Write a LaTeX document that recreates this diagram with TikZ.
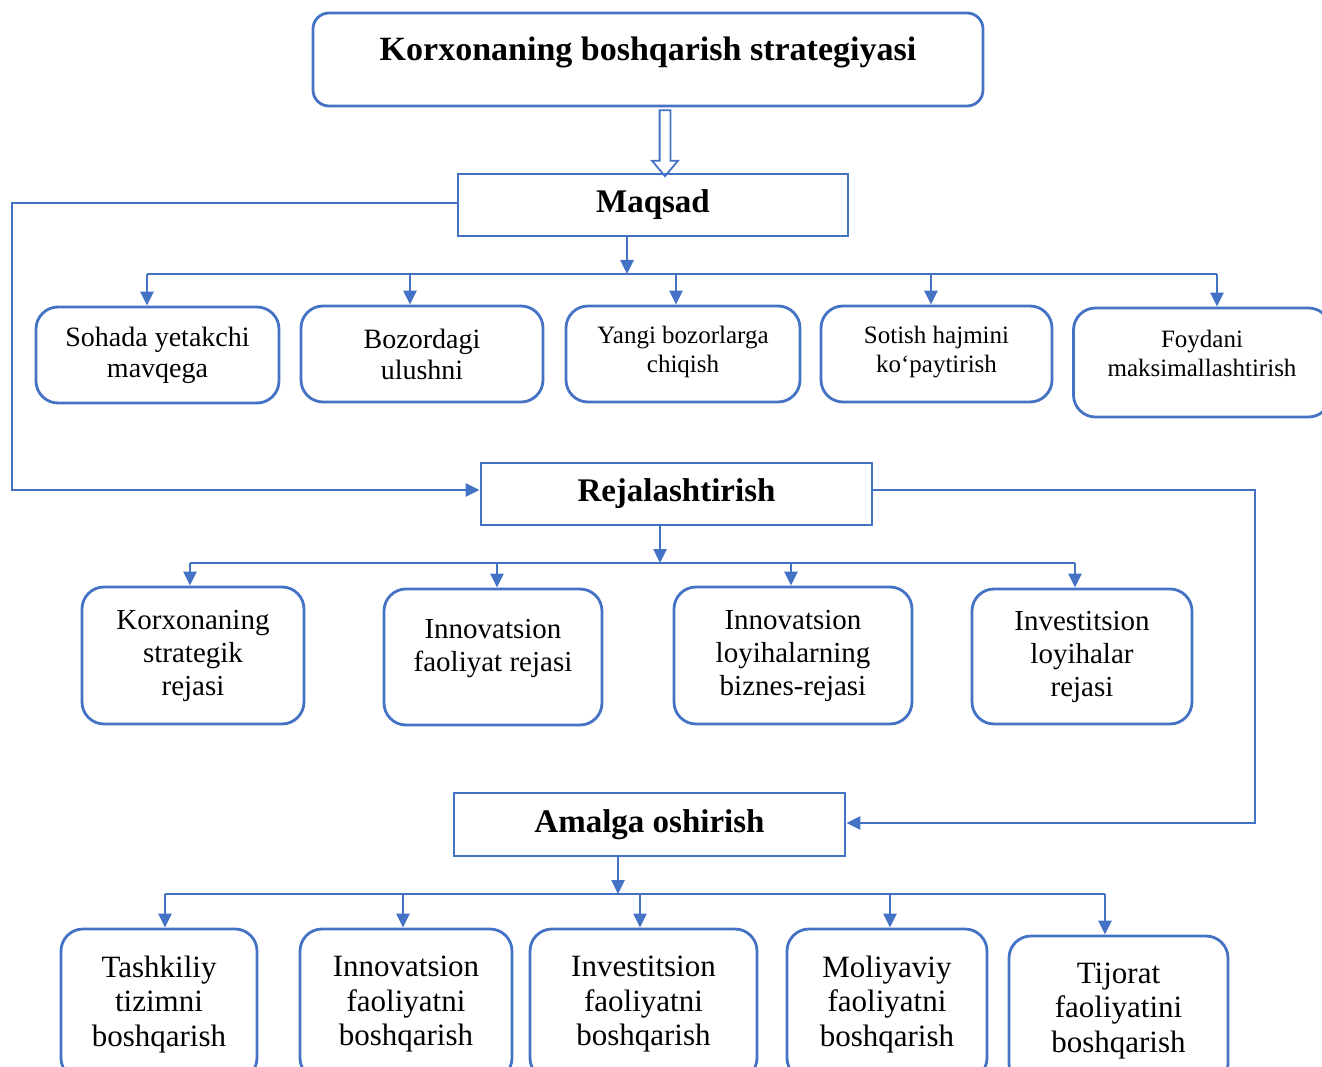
\documentclass[tikz,border=0pt]{standalone}
\usepackage{fontspec}
\setmainfont{Liberation Serif}
\usetikzlibrary{arrows.meta, shapes.arrows}
\definecolor{boxblue}{RGB}{68,114,196}

\begin{document}
\begin{tikzpicture}[x=1pt, y=-1pt, >={Triangle[width=13pt,length=14pt]}, align=center,
    topbox/.style={draw=boxblue, line width=2.8pt, rounded corners=16pt, font=\bfseries\fontsize{34}{40}\selectfont},
    headbox/.style={draw=boxblue, line width=2.8pt, minimum width=391pt, minimum height=62pt, font=\bfseries\fontsize{33}{38}\selectfont},
    itembox/.style={draw=boxblue, line width=2.8pt, rounded corners=22pt},
    conn/.style={draw=boxblue, line width=2.5pt, ->},
    bus/.style={draw=boxblue, line width=2.5pt}]
    \useasboundingbox (0,0) rectangle (1322,1067);

    % MAIN BLOCKS
    \node (strat) at (648, 59.5) [topbox, minimum width=670pt, minimum height=93pt, text height=24pt, text depth=21pt] {Korxonaning boshqarish strategiyasi};
    \node (dblarrow) at (665, 140) [single arrow, draw=boxblue, line width=1.8pt, rotate=-90, minimum height=66pt, inner sep=4.5pt, single arrow head extend=7.5pt, single arrow tip angle=80] {};
    \node (maqsad) at (653, 205) [headbox, minimum width=390pt] {Maqsad};
    \node (rej) at (676.5, 494) [headbox] {Rejalashtirish};
    \node (amalga) at (649.5, 824.5) [headbox, minimum height=63pt] {Amalga oshirish};

    % GOALS
    \node (goal1) at (157.5, 355) [itembox, minimum width=243pt, minimum height=96pt, font=\fontsize{28}{31}\selectfont] {Sohada yetakchi\\mavqega};
    \node (goal2) at (422, 354) [itembox, minimum width=242pt, minimum height=96pt, font=\fontsize{28}{31}\selectfont] {Bozordagi\\ulushni};
    \node (goal3) at (683, 354) [itembox, minimum width=234pt, minimum height=96pt, text depth=9pt, font=\fontsize{25}{29}\selectfont] {Yangi bozorlarga\\chiqish};
    \node (goal4) at (936.5, 354) [itembox, minimum width=231pt, minimum height=96pt, text depth=9pt, font=\fontsize{25}{29}\selectfont] {Sotish hajmini\\ko‘paytirish};
    \node (goal5) at (1202, 362.5) [itembox, minimum width=257pt, minimum height=109pt, text depth=19pt, font=\fontsize{25}{29}\selectfont] {Foydani\\maksimallashtirish};

    % PLANS
    \node (plan1) at (193, 655.5) [itembox, minimum width=222pt, minimum height=137pt, font=\fontsize{29}{33}\selectfont] {Korxonaning\\strategik\\rejasi};
    \node (plan2) at (493, 657) [itembox, minimum width=218pt, minimum height=136pt, text depth=24pt, font=\fontsize{29}{33}\selectfont] {Innovatsion\\faoliyat rejasi};
    \node (plan3) at (793, 655.5) [itembox, minimum width=238pt, minimum height=137pt, font=\fontsize{29}{33}\selectfont] {Innovatsion\\loyihalarning\\biznes-rejasi};
    \node (plan4) at (1082, 656.5) [itembox, minimum width=220pt, minimum height=135pt, font=\fontsize{29}{33}\selectfont] {Investitsion\\loyihalar\\rejasi};

    % ACTIONS
    \node (act1) at (159, 1004.5) [itembox, minimum width=196pt, minimum height=151pt, font=\fontsize{31}{34.5}\selectfont] {Tashkiliy\\tizimni\\boshqarish};
    \node (act2) at (406, 1004.5) [itembox, minimum width=212pt, minimum height=151pt, font=\fontsize{31}{34.5}\selectfont] {Innovatsion\\faoliyatni\\boshqarish};
    \node (act3) at (643.5, 1004.5) [itembox, minimum width=227pt, minimum height=151pt, font=\fontsize{31}{34.5}\selectfont] {Investitsion\\faoliyatni\\boshqarish};
    \node (act4) at (887, 1004.5) [itembox, minimum width=200pt, minimum height=151pt, font=\fontsize{31}{34.5}\selectfont] {Moliyaviy\\faoliyatni\\boshqarish};
    \node (act5) at (1118.5, 1011) [itembox, minimum width=219pt, minimum height=150pt, font=\fontsize{31}{34.5}\selectfont] {Tijorat\\faoliyatini\\boshqarish};

    % BUS POINTS
    \coordinate (m0) at (627, 274);
    \coordinate (m1) at (147, 274);
    \coordinate (m2) at (410, 274);
    \coordinate (m3) at (676, 274);
    \coordinate (m4) at (931, 274);
    \coordinate (m5) at (1217, 274);

    \coordinate (r0) at (660, 563);
    \coordinate (r1) at (190, 563);
    \coordinate (r2) at (497, 563);
    \coordinate (r3) at (791, 563);
    \coordinate (r4) at (1075, 563);

    \coordinate (a0) at (618, 894);
    \coordinate (a1) at (165, 894);
    \coordinate (a2) at (403, 894);
    \coordinate (a3) at (640, 894);
    \coordinate (a4) at (890, 894);
    \coordinate (a5) at (1105, 894);

    \coordinate (lft) at (12, 300);
    \coordinate (rgt) at (1255, 650);

    % CONNEXIONS
    % Maqsad to goals
    \draw[conn] (maqsad.south -| m0) -- (m0);
    \draw[bus] (m1) -- (m5);
    \draw[conn] (m1) -- (goal1.north -| m1);
    \draw[conn] (m2) -- (goal2.north -| m2);
    \draw[conn] (m3) -- (goal3.north -| m3);
    \draw[conn] (m4) -- (goal4.north -| m4);
    \draw[conn] (m5) -- (goal5.north -| m5);

    % Rejalashtirish to plans
    \draw[conn] (rej.south -| r0) -- (r0);
    \draw[bus] (r1) -- (r4);
    \draw[conn] (r1) -- (plan1.north -| r1);
    \draw[conn] (r2) -- (plan2.north -| r2);
    \draw[conn] (r3) -- (plan3.north -| r3);
    \draw[conn] (r4) -- (plan4.north -| r4);

    % Amalga oshirish to actions
    \draw[conn] (amalga.south -| a0) -- (a0);
    \draw[bus] (a1) -- (a5);
    \draw[conn] (a1) -- (act1.north -| a1);
    \draw[conn] (a2) -- (act2.north -| a2);
    \draw[conn] (a3) -- (act3.north -| a3);
    \draw[conn] (a4) -- (act4.north -| a4);
    \draw[conn] (a5) -- (act5.north -| a5);

    % Side loops
    \draw[conn] ([yshift=2pt]maqsad.west) -| (lft) |- ([yshift=4pt]rej.west);
    \draw[conn] ([yshift=4pt]rej.east) -| (rgt) |- ([yshift=1.5pt]amalga.east);
\end{tikzpicture}
\end{document}
